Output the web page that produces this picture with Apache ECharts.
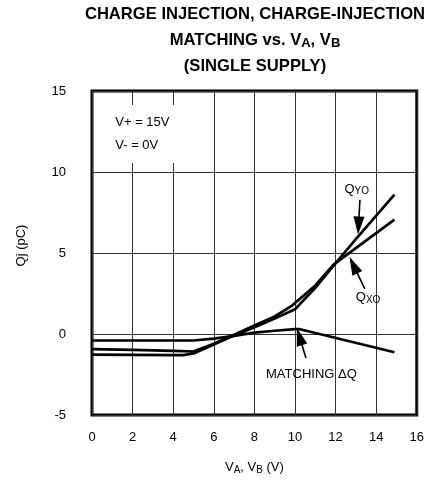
<!DOCTYPE html>
<html>
<head>
<meta charset="utf-8">
<script src="https://cdn.jsdelivr.net/npm/echarts@6/dist/echarts.min.js"></script>
<style>html,body{margin:0;padding:0;background:#fff}#c{width:427px;height:480px}</style>
</head>
<body>
<div id="c"></div>
<script>
// ---- data ----
const titleLines = ['CHARGE INJECTION, CHARGE-INJECTION', 'MATCHING vs. V{s|A}, V{s|B}', '(SINGLE SUPPLY)'];
const xName = 'V{s|A}, V{s|B} (V)';
const yName = 'Qj (pC)';
const xRange = [0, 16, 2];
const yRange = [-5, 15, 5];

const qxoV = [0, 2, 4, 5, 6, 7, 8, 9, 9.8, 11, 11.9, 13, 14.9];
const qxo  = [-0.93, -0.98, -1.04, -1.08, -0.6, -0.04, 0.52, 1.08, 1.7, 3.0, 4.28, 5.3, 7.06];
const qyoV = [0, 2, 4, 4.5, 5, 6, 7, 8, 9, 10, 11, 11.9, 13, 14.9];
const qyo  = [-1.27, -1.29, -1.31, -1.3, -1.2, -0.65, -0.1, 0.42, 0.95, 1.53, 2.85, 4.22, 5.85, 8.6];
const dqV  = [0, 5, 6, 7, 8, 9, 10, 10.2, 14.9];
const dq   = [-0.4, -0.4, -0.28, -0.12, 0.08, 0.2, 0.3, 0.31, -1.13];

const noteText = 'V+ = 15V\nV- = 0V';
const notePos = [0.9, 12.35];
const labelTexts = ['Q{s|YO}', 'Q{s|XO}', 'MATCHING ΔQ'];
const labelPos = [[13.04, 8.95], [13.6, 2.24], [10.81, -2.51]];
const arrowFrom = [[13.2, 8.28], [13.44, 2.79], [10.54, -1.48]];
const arrowTo   = [[13.13, 6.7], [12.88, 4.25], [10.22, -0.15]];

// ---- build ----
const zip = (a, b) => a.map((v, i) => [v, b[i]]);
const FONT = 'Liberation Sans';
const subRich = { s: { fontSize: 10, fontFamily: FONT, color: '#000', padding: [5, 0, 0, 0] } };

const lineSeries = (name, data, extra) => Object.assign({
  name, type: 'line', data, showSymbol: false, symbol: 'none',
  lineStyle: { color: '#000', width: 2.7 }, silent: true, animation: false, z: 3
}, extra || {});

const option = {
  animation: false,
  backgroundColor: '#fff',
  title: {
    text: titleLines.join('\n'),
    left: 255, top: 1, padding: 0,
    textAlign: 'center', textVerticalAlign: 'top',
    textStyle: {
      fontFamily: FONT, fontSize: 16.6, fontWeight: 'bold', color: '#000', lineHeight: 26,
      rich: { s: { fontSize: 13, fontWeight: 'bold', fontFamily: FONT, color: '#000', lineHeight: 26, padding: [6, 0, 0, 0] } }
    }
  },
  grid: { left: 92, right: 7, top: 91, bottom: 62, show: true, borderColor: '#000', borderWidth: 3, containLabel: false },
  xAxis: {
    type: 'value', min: xRange[0], max: xRange[1], interval: xRange[2],
    name: xName, nameLocation: 'middle', nameGap: 45,
    nameTextStyle: { fontFamily: FONT, fontSize: 13, color: '#000', rich: subRich },
    axisLine: { show: false }, axisTick: { show: false },
    axisLabel: { fontFamily: FONT, fontSize: 13, color: '#000', margin: 16 },
    splitLine: { show: true, lineStyle: { color: '#333', width: 1 } }
  },
  yAxis: {
    type: 'value', min: yRange[0], max: yRange[1], interval: yRange[2],
    name: yName, nameLocation: 'middle', nameGap: 64, nameRotate: 90,
    nameTextStyle: { fontFamily: FONT, fontSize: 13, color: '#000', padding: [0, 0, 0, 15] },
    axisLine: { show: false }, axisTick: { show: false },
    axisLabel: { fontFamily: FONT, fontSize: 13, color: '#000', margin: 26 },
    splitLine: { show: true, lineStyle: { color: '#333', width: 1 } }
  },
  series: [
    lineSeries('QXO', zip(qxoV, qxo)),
    lineSeries('QYO', zip(qyoV, qyo)),
    lineSeries('MATCHING ΔQ', zip(dqV, dq), {
      markLine: {
        silent: true, animation: false,
        symbol: ['none', 'triangle'], symbolSize: [11, 18],
        lineStyle: { color: '#000', width: 1.6, type: 'solid' },
        label: { show: false },
        emphasis: { disabled: true },
        data: arrowFrom.map((f, i) => [{ coord: f }, { coord: arrowTo[i] }])
      },
      markPoint: {
        silent: true, animation: false,
        symbol: 'circle', symbolSize: 0,
        label: { show: true, position: 'inside', color: '#000', fontFamily: FONT, fontSize: 13, rich: subRich },
        data: labelPos.map((p, i) => ({ coord: p, label: { formatter: labelTexts[i] } })).concat([{
          coord: notePos,
          label: {
            formatter: noteText, position: 'right', distance: 0, align: 'left',
            backgroundColor: '#fff', padding: [6, 6, 6, 5], lineHeight: 23, fontSize: 13
          }
        }])
      }
    })
  ]
};

const chart = echarts.init(document.getElementById('c'), null, { renderer: 'canvas' });
chart.setOption(option);
</script>
</body>
</html>
